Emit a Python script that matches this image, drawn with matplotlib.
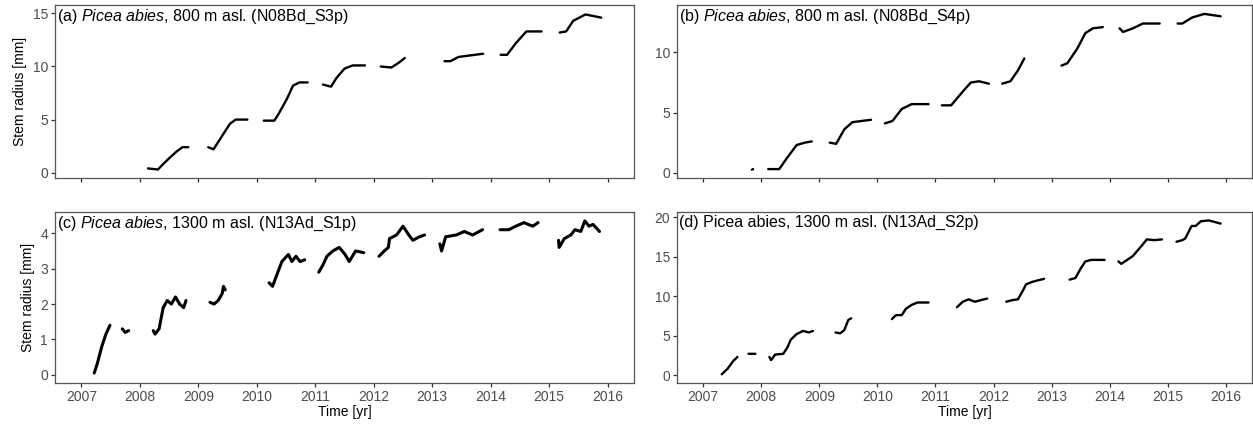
import numpy as np
import matplotlib
matplotlib.use("Agg")
import matplotlib.pyplot as plt
from matplotlib import font_manager

nan = np.nan

# Panel (a) N08Bd_S3p, segments separated by nan
a_time = [2008.14, 2008.31, 2008.38, 2008.49, 2008.63, 2008.73, 2008.83, nan,
          2009.17, 2009.26, 2009.40, 2009.54, 2009.64, 2009.84, nan,
          2010.12, 2010.30, 2010.38, 2010.52, 2010.62, 2010.73, 2010.87, nan,
          2011.13, 2011.27, 2011.36, 2011.50, 2011.64, 2011.85, nan,
          2012.12, 2012.30, 2012.44, 2012.53, nan,
          2013.21, 2013.31, 2013.45, 2013.59, 2013.87, nan,
          2014.17, 2014.28, 2014.43, 2014.61, 2014.87, nan,
          2015.18, 2015.29, 2015.41, 2015.62, 2015.89]
a_radius = [0.4, 0.3, 0.7, 1.3, 2.0, 2.4, 2.4, nan,
            2.4, 2.2, 3.4, 4.6, 5.0, 5.0, nan,
            4.9, 4.9, 5.6, 7.0, 8.2, 8.5, 8.5, nan,
            8.3, 8.1, 8.9, 9.8, 10.1, 10.1, nan,
            10.0, 9.9, 10.4, 10.8, nan,
            10.5, 10.5, 10.9, 11.0, 11.2, nan,
            11.1, 11.1, 12.2, 13.3, 13.3, nan,
            13.2, 13.3, 14.3, 14.9, 14.6]

# Panel (b) N08Bd_S4p
b_time = [2007.84, 2007.86, nan,
          2008.12, 2008.31, 2008.44, 2008.61, 2008.75, 2008.87, nan,
          2009.18, 2009.29, 2009.43, 2009.57, 2009.89, nan,
          2010.13, 2010.26, 2010.42, 2010.59, 2010.88, nan,
          2011.11, 2011.27, 2011.48, 2011.61, 2011.75, 2011.92, nan,
          2012.15, 2012.29, 2012.42, 2012.53, nan,
          2013.17, 2013.27, 2013.44, 2013.58, 2013.71, 2013.88, nan,
          2014.17, 2014.23, 2014.40, 2014.57, 2014.86, nan,
          2015.17, 2015.25, 2015.42, 2015.63, 2015.91]
b_radius = [0.25, 0.3, nan,
            0.3, 0.3, 1.2, 2.3, 2.5, 2.6, nan,
            2.5, 2.4, 3.6, 4.2, 4.4, nan,
            4.1, 4.3, 5.3, 5.7, 5.7, nan,
            5.6, 5.6, 6.8, 7.5, 7.6, 7.4, nan,
            7.4, 7.6, 8.5, 9.5, nan,
            8.9, 9.1, 10.3, 11.6, 12.0, 12.1, nan,
            12.0, 11.7, 12.0, 12.4, 12.4, nan,
            12.4, 12.4, 12.9, 13.2, 13.0]

# Panel (c) N13Ad_S1p
c_time = [2007.22, 2007.27, 2007.35, 2007.42, 2007.49, nan,
          2007.70, 2007.75, 2007.81, nan,
          2008.23, 2008.26, 2008.33, 2008.40, 2008.47, 2008.54, 2008.61, 2008.68, 2008.75, 2008.79, nan,
          2009.20, 2009.27, 2009.34, 2009.41, 2009.43, 2009.46, nan,
          2010.21, 2010.27, 2010.36, 2010.43, 2010.54, 2010.60, 2010.67, 2010.74, 2010.82, nan,
          2011.06, 2011.13, 2011.20, 2011.30, 2011.41, 2011.51, 2011.58, 2011.69, 2011.83, nan,
          2012.09, 2012.18, 2012.25, 2012.27, 2012.39, 2012.50, 2012.60, 2012.67, 2012.78, 2012.87, nan,
          2013.13, 2013.16, 2013.23, 2013.41, 2013.55, 2013.69, 2013.86, nan,
          2014.16, 2014.31, 2014.43, 2014.57, 2014.64, 2014.72, 2014.81, nan,
          2015.16, 2015.17, 2015.26, 2015.37, 2015.44, 2015.54, 2015.61, 2015.68, 2015.75, 2015.86]
c_radius = [0.05, 0.3, 0.8, 1.15, 1.4, nan,
            1.3, 1.2, 1.25, nan,
            1.25, 1.15, 1.3, 1.9, 2.1, 2.0, 2.2, 2.0, 1.9, 2.1, nan,
            2.05, 2.0, 2.1, 2.3, 2.5, 2.4, nan,
            2.6, 2.5, 2.9, 3.2, 3.4, 3.2, 3.35, 3.2, 3.25, nan,
            2.9, 3.1, 3.35, 3.5, 3.6, 3.4, 3.2, 3.5, 3.45, nan,
            3.35, 3.5, 3.6, 3.85, 3.95, 4.2, 3.95, 3.8, 3.9, 3.95, nan,
            3.7, 3.5, 3.9, 3.95, 4.05, 3.95, 4.1, nan,
            4.1, 4.1, 4.2, 4.3, 4.25, 4.2, 4.3, nan,
            3.8, 3.6, 3.85, 3.95, 4.1, 4.05, 4.35, 4.2, 4.25, 4.05]

# Panel (d) N13Ad_S2p
d_time = [2007.32, 2007.42, 2007.52, 2007.59, nan,
          2007.78, 2007.84, 2007.90, nan,
          2008.14, 2008.17, 2008.24, 2008.38, 2008.45, 2008.51, 2008.61, 2008.72, 2008.82, 2008.89, nan,
          2009.28, 2009.36, 2009.43, 2009.50, 2009.55, nan,
          2010.25, 2010.32, 2010.42, 2010.49, 2010.59, 2010.69, 2010.88, nan,
          2011.37, 2011.47, 2011.57, 2011.68, 2011.78, 2011.89, nan,
          2012.22, 2012.32, 2012.42, 2012.49, 2012.56, 2012.66, 2012.76, 2012.87, nan,
          2013.31, 2013.41, 2013.50, 2013.58, 2013.68, 2013.91, nan,
          2014.15, 2014.20, 2014.30, 2014.40, 2014.54, 2014.64, 2014.77, 2014.90, nan,
          2015.15, 2015.25, 2015.30, 2015.41, 2015.48, 2015.57, 2015.71, 2015.91]
d_radius = [0.1, 0.8, 1.8, 2.3, nan,
            2.7, 2.7, 2.7, nan,
            2.3, 1.9, 2.6, 2.7, 3.5, 4.5, 5.2, 5.6, 5.4, 5.6, nan,
            5.4, 5.3, 5.7, 7.0, 7.2, nan,
            7.1, 7.6, 7.6, 8.4, 8.9, 9.2, 9.2, nan,
            8.6, 9.3, 9.6, 9.3, 9.5, 9.7, nan,
            9.3, 9.5, 9.6, 10.5, 11.5, 11.8, 12.0, 12.2, nan,
            12.1, 12.3, 13.5, 14.4, 14.6, 14.6, nan,
            14.4, 14.1, 14.6, 15.1, 16.3, 17.2, 17.1, 17.2, nan,
            16.9, 17.1, 17.3, 18.9, 18.9, 19.5, 19.6, 19.2]

titles = ["(a) $\\mathit{Picea\\ abies}$, 800 m asl. (N08Bd_S3p)",
          "(b) $\\mathit{Picea\\ abies}$, 800 m asl. (N08Bd_S4p)",
          "(c) $\\mathit{Picea\\ abies}$, 1300 m asl. (N13Ad_S1p)",
          "(d) Picea abies, 1300 m asl. (N13Ad_S2p)"]
year_ticks = list(range(2007, 2017))

# pick a narrow font if we have one
names = {f.name for f in font_manager.fontManager.ttflist}
main_font = "Liberation Sans Narrow" if "Liberation Sans Narrow" in names else "Liberation Sans"
plt.rcParams["font.family"] = [main_font, "DejaVu Sans"]
plt.rcParams["mathtext.fontset"] = "custom"
plt.rcParams["mathtext.rm"] = main_font
plt.rcParams["mathtext.it"] = main_font + ":italic"

W, H = 1253, 425
fig = plt.figure(figsize=(W / 100, H / 100), dpi=100)


def rect(left, top, right, bottom):
    return [left / W, 1 - bottom / H, (right - left) / W, (bottom - top) / H]


panels = [
    (rect(55, 5, 634, 178), a_time, a_radius, (-0.5, 15.79), [0, 5, 10, 15]),
    (rect(677, 5, 1252, 178), b_time, b_radius, (-0.44, 13.94), [0, 5, 10]),
    (rect(55, 212, 634, 383), c_time, c_radius, (-0.23, 4.60), [0, 1, 2, 3, 4]),
    (rect(677, 212, 1252, 383), d_time, d_radius, (-1.0, 20.67), [0, 5, 10, 15, 20]),
]

for i, (r, t, y, ylim, yticks) in enumerate(panels):
    ax = fig.add_axes(r)
    lw = 2.2 if i == 2 else 1.7
    ax.plot(t, y, color="black", lw=lw, solid_joinstyle="round", solid_capstyle="round")
    ax.set_xlim(2006.55, 2016.45)
    ax.set_ylim(*ylim)
    ax.set_xticks(year_ticks)
    ax.set_yticks(yticks)
    for s in ax.spines.values():
        s.set_color("#555555")
        s.set_linewidth(0.9)
    ax.tick_params(colors="#333333", labelcolor="#4D4D4D", labelsize=10, length=3, width=0.9, pad=2)
    if i < 2:
        ax.tick_params(axis="x", labelbottom=False)
    else:
        ax.set_xlabel("Time [yr]", fontsize=10, labelpad=1)
    if i in (0, 2):
        ax.set_ylabel("Stem radius [mm]", fontsize=10, labelpad=4)
    ax.text(0.003, 0.985, titles[i], transform=ax.transAxes, ha="left", va="top", fontsize=11.5, color="black")

fig.savefig("out.png", dpi=100)
